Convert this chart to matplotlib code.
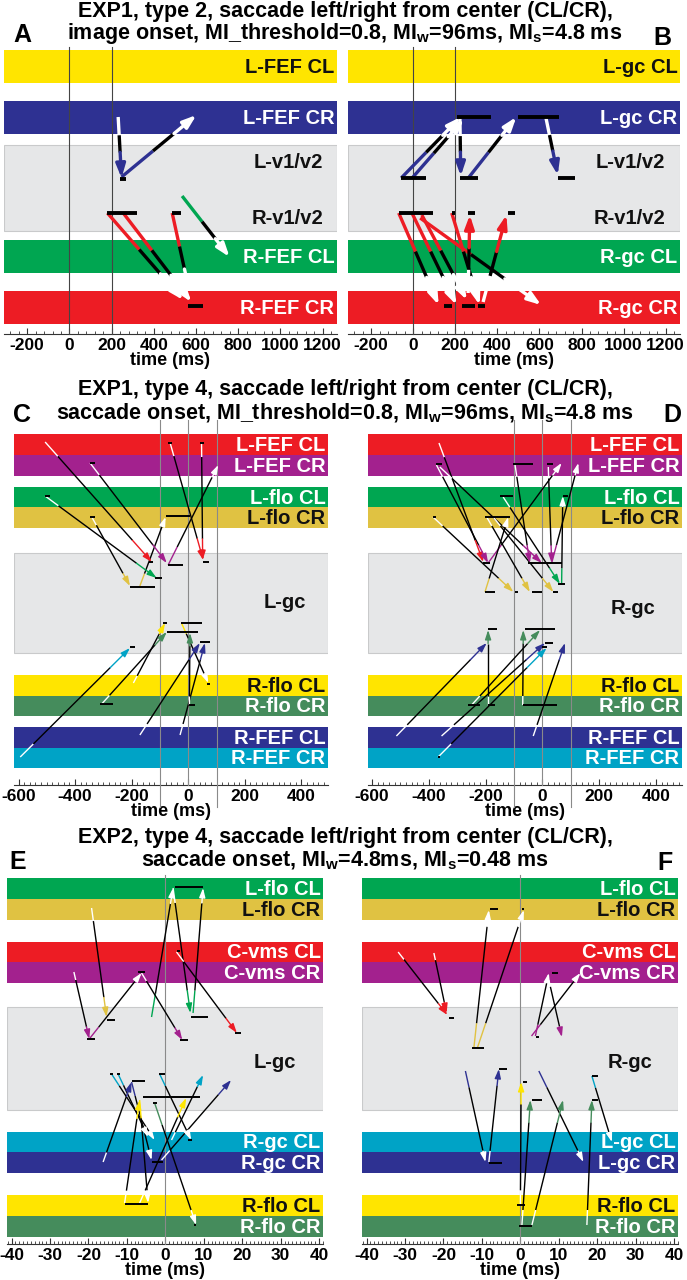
import matplotlib.pyplot as plt
from matplotlib.ticker import MultipleLocator

plt.rcParams['font.family'] = ['Liberation Sans', 'DejaVu Sans']
plt.rcParams['font.weight'] = 'bold'
plt.rcParams['axes.unicode_minus'] = False
plt.rcParams['mathtext.fontset'] = 'custom'
plt.rcParams['mathtext.bf'] = 'Liberation Sans:bold'
plt.rcParams['mathtext.rm'] = 'Liberation Sans:bold'
plt.rcParams['mathtext.it'] = 'Liberation Sans:bold'
plt.rcParams['mathtext.default'] = 'bf'

# colours of the areas
YEL, NAVY, GRN, RED = '#FFE500', '#2E3192', '#00A651', '#ED1C24'
PUR, GOLD, SEA, CYAN = '#A3218E', '#E0C242', '#458C5C', '#00A3C6'
GRAY = '#E6E7E8'

# ---------------- data ----------------
# arrows: (t_start, y_start, t_end, y_end)  y = depth inside panel
# bars:   (t_from, t_to, y)
names_A = ['L-FEF CL', 'L-FEF CR', 'R-FEF CL', 'R-FEF CR']
cols_A = [YEL, NAVY, GRN, RED]
gray_A = ['L-v1/v2', 'R-v1/v2']
arrows_A = [(231, 70, 247, 131), (247, 130, 602, 68), (534, 149, 759, 210),
            (180, 166, 539, 253), (255, 166, 578, 255), (487, 166, 570, 246)]
bars_A = [(239, 266, 132), (180, 318, 166), (487, 531, 166), (562, 633, 259)]

names_B = ['L-gc CL', 'L-gc CR', 'R-gc CL', 'R-gc CR']
cols_B = [YEL, NAVY, GRN, RED]
gray_B = ['L-v1/v2', 'R-v1/v2']
arrows_B = [(-57, 131, 225, 70), (-5, 131, 240, 72), (222, 72, 226, 129),
            (262, 131, 490, 70), (631, 71, 687, 128),
            (-69, 166, 121, 258), (-6, 166, 206, 258), (41, 168, 255, 253),
            (33, 171, 608, 258), (183, 166, 316, 258),
            (261, 246, 269, 168), (332, 255, 443, 168)]
bars_B = [(206, 372, 70), (498, 691, 70), (-57, 61, 131), (222, 309, 131),
          (687, 770, 131), (-69, 96, 166), (183, 198, 166), (261, 293, 166),
          (450, 482, 166), (145, 186, 259), (230, 293, 259), (309, 340, 259)]

names_C = ['L-FEF CL', 'L-FEF CR', 'L-flo CL', 'L-flo CR',
           'R-flo CL', 'R-flo CR', 'R-FEF CL', 'R-FEF CR']
cols_C = [RED, PUR, GRN, GOLD, YEL, SEA, NAVY, CYAN]
gray_C = ['L-gc']
arrows_C = [(-506, 22, -129, 142), (-347, 43, -76, 143), (-65, 22, 53, 140),
            (47, 23, 51, 140), (-71, 145, 106, 45), (-506, 76, -112, 158),
            (-341, 97, -206, 166), (-171, 166, -80, 97),
            (-594, 337, -206, 228), (-194, 263, -82, 203), (-306, 284, -76, 212),
            (-171, 315, 41, 223), (-29, 315, 59, 223), (4, 285, 6, 213),
            (-24, 203, 71, 263)]
bars_C = [(-71, -59, 23), (41, 55, 23), (-138, -124, 142), (-347, -329, 43),
          (-71, -18, 145), (53, 74, 142), (-506, -488, 76), (-118, -94, 158),
          (-347, -329, 97), (-206, -118, 167), (-80, 6, 96), (-206, -188, 227),
          (-88, -76, 203), (-312, -265, 284), (-76, 35, 212), (41, 76, 222),
          (-24, 47, 203), (65, 76, 264), (4, 24, 285)]

names_D = names_C
cols_D = cols_C
gray_D = ['R-gc']
arrows_D = [(-364, 23, -208, 142), (-373, 45, -191, 143), (-361, 47, -2, 143),
            (-96, 45, -44, 143), (21, 47, 33, 143), (-191, 143, 68, 43),
            (33, 143, 127, 43), (-385, 97, -102, 172), (-196, 97, -44, 172),
            (-173, 97, 39, 172), (-202, 172, -120, 97), (-138, 77, 62, 164),
            (68, 164, 72, 76),
            (-514, 316, -196, 223), (-355, 316, 9, 223), (-32, 316, 80, 223),
            (-367, 337, 15, 228), (-191, 285, -191, 210), (-69, 285, -67, 210),
            (-249, 285, -8, 210)]
bars_D = [(-373, -355, 44), (-102, -34, 44), (15, 39, 44), (-149, -102, 76),
          (72, 92, 76), (-385, -373, 97), (-202, -114, 97), (-208, -185, 143),
          (-49, 68, 143), (56, 80, 164), (-202, -167, 172), (-96, -85, 172),
          (-38, -2, 172), (39, 56, 172), (-191, -161, 209), (-61, 45, 209),
          (9, 39, 223), (-2, 15, 227), (-261, -220, 285), (-191, -167, 285),
          (-69, 51, 285), (-367, -361, 337)]

names_E = ['L-flo CL', 'L-flo CR', 'C-vms CL', 'C-vms CR',
           'R-gc CL', 'R-gc CR', 'R-flo CL', 'R-flo CR']
cols_E = [GRN, GOLD, RED, PUR, CYAN, NAVY, YEL, SEA]
gray_E = ['L-gc']
arrows_E = [(-3.6, 142, 2.0, 13), (2.0, 13, 6.5, 138), (7.2, 138, 9.8, 13),
            (-19.2, 33, -15.3, 142), (-23.8, 97, -19.8, 164),
            (-19.8, 164, -6.2, 98), (-6.2, 98, 4.4, 165), (2.9, 77, 18.6, 158),
            (-14.0, 199, -2.8, 265), (-12.3, 199, -4.5, 262),
            (-1.5, 199, 6.7, 265), (-16.2, 287, -8.8, 207),
            (-8.8, 207, -3.6, 285), (1.6, 265, 9.8, 200),
            (-1.0, 285, 17.1, 205), (-6.7, 328, 5.4, 223),
            (-10.6, 328, -6.7, 225), (-2.8, 228, 8.0, 350),
            (-6.7, 225, -4.5, 328)]
bars_E = [(2.4, 9.8, 12), (6.7, 11.1, 142), (-15.3, -13.1, 145),
          (-20.3, -18.3, 164), (-7.0, -5.3, 97), (3.7, 5.9, 165),
          (2.9, 3.7, 76), (18.0, 19.7, 158), (-14.4, -13.6, 199),
          (-12.7, -11.8, 199), (-1.6, -0.2, 199), (-8.7, -5.3, 206),
          (-5.8, 9.0, 222), (-3.2, -2.3, 228), (-3.6, -0.6, 287),
          (-10.6, -4.5, 329), (7.5, 8.0, 350), (5.9, 7.0, 265)]

names_F = ['L-flo CL', 'L-flo CR', 'C-vms CL', 'C-vms CR',
           'L-gc CL', 'L-gc CR', 'R-flo CL', 'R-flo CR']
cols_F = cols_E
gray_F = ['R-gc']
arrows_F = [(-31.8, 77, -19.0, 140), (-22.5, 78, -19.2, 138),
            (-12.1, 173, -8.2, 35), (-11.2, 173, 0.9, 35),
            (2.9, 161, 15.6, 98), (3.9, 161, 7.4, 98), (7.4, 105, 10.8, 162),
            (-14.3, 196, -9.1, 287), (-8.2, 287, -5.6, 194),
            (0.0, 330, 0.2, 207), (0.4, 350, 2.6, 225), (3.0, 350, 11.1, 225),
            (17.3, 350, 18.6, 225), (4.8, 196, 16.4, 287),
            (18.6, 201, 23.8, 267)]
bars_F = [(-18.6, -17.3, 143), (-8.0, -5.9, 34), (0.4, 1.0, 34),
          (-12.5, -9.5, 173), (8.2, 9.9, 98), (4.0, 4.8, 162),
          (-8.2, -4.8, 288), (-5.6, -3.5, 194), (0.7, 1.7, 207),
          (-1.0, 1.3, 330), (-0.4, 3.0, 351), (3.0, 5.6, 225),
          (18.6, 20.3, 201), (18.6, 20.3, 225)]

# ---------------- layout ----------------
W, H = 687, 1280
fig = plt.figure(figsize=(W / 100, H / 100), dpi=100)

span_AB = [(3, 36), (54, 87), (193, 226), (244, 277)]
span_CD = [(14, 35), (35, 56), (67, 87), (87, 108), (255, 276), (276, 296), (307, 328), (328, 348)]
span_EF = [(3, 24), (24, 45), (67, 87), (87, 108), (257, 277), (277, 298), (320, 341), (341, 362)]


def band_of(y, spans):
    for i, (a, b) in enumerate(spans):
        if a <= y <= b:
            return i
    return None


def draw_arrow(ax, t0, y0, t1, y1, col, into_gray, lw, hl, hw, fw, fc):
    tail_c, head_c = ('white', col) if into_gray else (col, 'white')
    ft, fh = (fw, fc) if into_gray else (fc, fw)
    ta, ya = t0 + ft * (t1 - t0), y0 + ft * (y1 - y0)
    tb, yb = t1 - fh * (t1 - t0), y1 - fh * (y1 - y0)
    ax.plot([t0, ta], [y0, ya], color=tail_c, lw=lw, solid_capstyle='butt', zorder=4)
    ax.plot([ta, tb], [ya, yb], color='k', lw=lw, solid_capstyle='butt', zorder=4)
    ax.annotate('', xy=(t1, y1), xytext=(tb, yb), zorder=5,
                arrowprops=dict(arrowstyle=f'-|>,head_length={hl},head_width={hw}',
                                color=head_c, lw=lw, shrinkA=0, shrinkB=0, mutation_scale=1))


def panel(box, xlim, height, spans, gray, names, cols, gray_labels, gray_pos,
          arrows, bars, vlines, vcol, major, minor, thick):
    l, t, r, b = box
    ax = fig.add_axes([l / W, 1 - b / H, (r - l) / W, (b - t) / H])
    ax.set_xlim(*xlim)
    ax.set_ylim(height, 0)
    for (a, c), name, col in zip(spans, names, cols):
        ax.axhspan(a, c, color=col, lw=0, zorder=1)
        tc = '#111111' if col in (YEL, GOLD) else 'white'
        ax.text(0.992, (a + c) / 2 + 1, name, transform=ax.get_yaxis_transform(),
                ha='right', va='center', fontsize=14.5, color=tc, zorder=2)
    ax.axhspan(gray[0], gray[1], facecolor=GRAY, edgecolor='#C9CACB', lw=0.8, zorder=1)
    for lab, (gx, gy, ha) in zip(gray_labels, gray_pos):
        ax.text(gx, gy, lab, transform=ax.get_yaxis_transform(), ha=ha, va='center',
                fontsize=14.5, color='#111111', zorder=2)
    for v, below in vlines:
        ax.axvline(v, ymin=-below, ymax=1, color=vcol, lw=0.8, zorder=3, clip_on=False)
    if thick:
        lw, hl, hw, fw, fc = 2.4, 8.0, 2.8, 0.3, 0.42
    else:
        lw, hl, hw, fw, fc = 1.0, 5.5, 1.8, 0.12, 0.18
    for t0, y0, t1, y1 in arrows:
        ih = band_of(y1, spans)
        if ih is not None:
            draw_arrow(ax, t0, y0, t1, y1, cols[ih], False, lw, hl, hw, fw, fc)
        else:
            i0 = band_of(y0, spans)
            draw_arrow(ax, t0, y0, t1, y1, cols[i0], True, lw, hl, hw, fw, fc)
    for a, c, y in bars:
        ax.plot([a, c], [y, y], color='k', lw=lw + 0.4, solid_capstyle='butt', zorder=6)
    for s in ('top', 'left', 'right'):
        ax.spines[s].set_visible(False)
    ax.spines['bottom'].set_color('#333333')
    ax.spines['bottom'].set_linewidth(0.8)
    ax.set_yticks([])
    ax.xaxis.set_major_locator(MultipleLocator(major))
    ax.xaxis.set_minor_locator(MultipleLocator(minor))
    ax.tick_params(axis='x', which='major', direction='in', length=4, width=0.8,
                   labelsize=12.5, pad=3, color='#333333')
    ax.tick_params(axis='x', which='minor', direction='in', length=2, width=0.6,
                   color='#333333')
    ax.set_xlabel('time (ms)', fontsize=13, fontweight='bold', labelpad=-1)
    ax.patch.set_alpha(0)
    return ax


vl_AB = [(0, 0), (200, 0)]
vl_CD = [(-100, 0.06), (0, 0), (100, 0.06)]
vl_EF = [(0, 0)]

panel((4, 47, 337, 334), (-310, 1268), 287, span_AB, (98, 184), names_A, cols_A,
      gray_A, [(0.958, 116, 'right'), (0.958, 172, 'right')],
      arrows_A, bars_A, vl_AB, '#444444', 200, 40, True)
panel((348, 47, 680, 334), (-310, 1268), 287, span_AB, (98, 184), names_B, cols_B,
      gray_B, [(0.955, 116, 'right'), (0.955, 172, 'right')],
      arrows_B, bars_B, vl_AB, '#444444', 200, 40, True)
panel((14, 420, 328, 785), (-616, 494), 365, span_CD, (133, 233), names_C, cols_C,
      gray_C, [(0.863, 183, 'center')], arrows_C, bars_C, vl_CD, '#8a8a8a', 200, 20, False)
panel((368, 420, 682, 785), (-614, 492), 365, span_CD, (133, 233), names_D, cols_D,
      gray_D, [(0.844, 188, 'center')], arrows_D, bars_D, vl_CD, '#8a8a8a', 200, 20, False)
panel((7, 875, 323, 1244), (-41.2, 41.0), 369, span_EF, (132, 235), names_E, cols_E,
      gray_E, [(0.848, 187, 'center')], arrows_E, bars_E, vl_EF, '#8a8a8a', 10, 1, False)
panel((362, 875, 678, 1244), (-41.2, 41.0), 369, span_EF, (132, 235), names_F, cols_F,
      gray_F, [(0.848, 188, 'center')], arrows_F, bars_F, vl_EF, '#8a8a8a', 10, 1, False)

# titles and panel letters
titles = [
    (12, 'EXP1, type 2, saccade left/right from center (CL/CR),'),
    (34, r'image onset, MI_threshold=0.8, MI$_w$=96ms, MI$_s$=4.8 ms'),
    (390, 'EXP1, type 4, saccade left/right from center (CL/CR),'),
    (413, r'saccade onset, MI_threshold=0.8, MI$_w$=96ms, MI$_s$=4.8 ms'),
    (837, 'EXP2, type 4, saccade left/right from center (CL/CR),'),
    (860, r'saccade onset, MI$_w$=4.8ms, MI$_s$=0.48 ms'),
]
for y, s in titles:
    fig.text(345 / W, 1 - y / H, s, ha='center', va='center', fontsize=15.5, fontweight='bold')

letters = [('A', 22, 35), ('B', 662, 38), ('C', 22, 415), ('D', 672, 415),
           ('E', 18, 862), ('F', 665, 863)]
for s, x, y in letters:
    fig.text(x / W, 1 - y / H, s, ha='center', va='center', fontsize=18, fontweight='bold')

fig.savefig('out.png', dpi=100)
